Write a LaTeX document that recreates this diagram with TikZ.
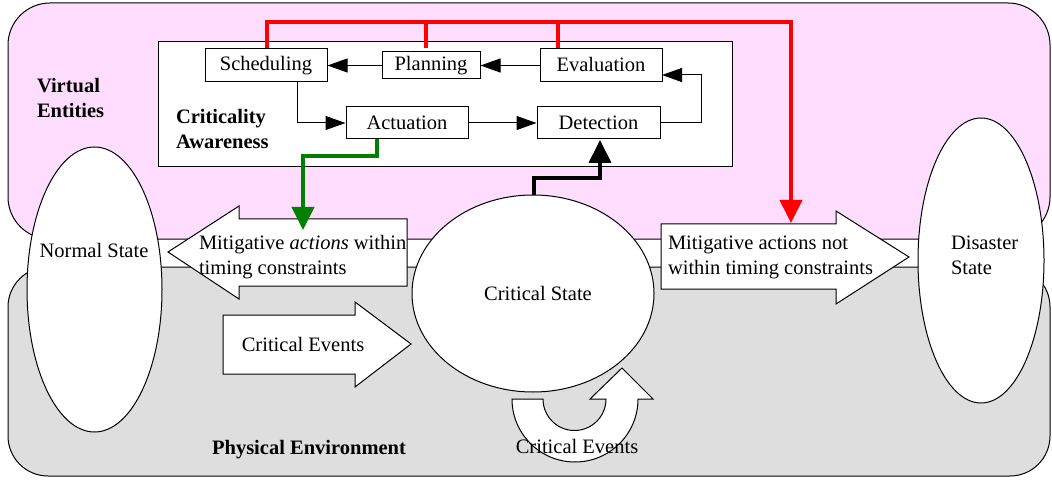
\documentclass[tikz,border=0pt]{standalone}
\usepackage{fontspec}
\setmainfont{Liberation Serif}
\usetikzlibrary{arrows.meta,calc,shapes.geometric}
\definecolor{vpink}{RGB}{255,221,255}
\definecolor{pgray}{RGB}{222,222,222}
\definecolor{dgreen}{RGB}{0,128,0}
\begin{document}
\begin{tikzpicture}[x=1pt,y=-1pt,
  font=\fontsize{20.5}{25}\selectfont,
  region/.style={draw=black,line width=1pt},
  procbox/.style={draw=black,fill=white,line width=1pt,inner sep=0pt},
  blockarrow/.style={draw=black,fill=white,line width=1pt,line join=miter},
  oval/.style={ellipse,draw=black,fill=white,line width=1pt,inner sep=0pt,outer sep=0pt},
  conn/.style={line width=1pt,-{Triangle[length=20pt,width=14pt]}},
  fat/.style={line width=4pt,line join=miter,-{Triangle[length=23pt,width=22pt]}},
  fatplain/.style={line width=4pt,line join=miter},
  txt/.style={inner sep=0pt,outer sep=0pt},
  bigtxt/.style={inner sep=0pt,outer sep=0pt,font=\fontsize{20.5}{25}\selectfont\bfseries}]
\useasboundingbox (0,0) rectangle (1052,481);
% regions
\draw[region,fill=vpink,rounded corners=42pt] (8,3) rectangle (1050,239);
\draw[region,fill=pgray,rounded corners=40pt] (8,267) rectangle (1050,476);
\node[bigtxt,anchor=north west,align=left] (virt) at (37,78) {Virtual\\Entities};
\node[bigtxt,anchor=base] (phys) at (309,454) {Physical Environment};
% criticality awareness box
\node[procbox,minimum width=574pt,minimum height=125pt] (cabox) at (445,104.5) {};
\node[bigtxt,anchor=north west,align=left] (calabel) at (176,109) {Criticality\\Awareness};
\node[procbox,minimum width=122pt,minimum height=33pt] (sched) at (266,65.5) {Scheduling};
\node[procbox,minimum width=98pt,minimum height=27pt] (plan) at (431,65.5) {Planning};
\node[procbox,minimum width=122pt,minimum height=33pt] (eval) at (601,65.5) {\raisebox{3pt}{Evaluation}};
\node[procbox,minimum width=122pt,minimum height=32pt] (act) at (407,123) {Actuation};
\node[procbox,minimum width=123pt,minimum height=32pt] (det) at (598.5,123) {Detection};
\draw[conn] (eval.west) -- (plan.east);
\draw[conn] (plan.west) -- (sched.east);
\coordinate (s1) at (297,82);
\draw[conn] (s1) |- (act.west);
\draw[conn] (act.east) -- (det.west);
\coordinate (e1) at (662,75);
\coordinate (d1) at (701,123);
\draw[conn] (det.east) -- (d1) |- (e1);
% states
\node[oval,minimum width=135pt,minimum height=285pt] (normal) at (94.5,289.5) {};
\node[txt,anchor=base] (normaltxt) at (94,257) {Normal State};
\node[oval,minimum width=126pt,minimum height=285pt] (disaster) at (981,260.5) {};
\node[txt,anchor=north west,align=left] (disastertxt) at (951,236.4) {Disaster\\State};
% block arrows
\draw[blockarrow] (168,252) -- (239,206) -- (239,219) -- (407,219) -- (407,286) -- (239,286) -- (239,299) -- cycle;
\node[txt,anchor=north west,align=left] (mitin) at (199,235.5) {Mitigative \textit{actions} within\\timing constraints};
\draw[blockarrow] (661,224) -- (836,224) -- (836,211) -- (909,257) -- (836,304) -- (836,289) -- (661,289) -- cycle;
\node[txt,anchor=north west,align=left] (mitout) at (668,236) {Mitigative actions not\\within timing constraints};
\draw[blockarrow] (223,315) -- (355,315) -- (355,302) -- (411,344) -- (355,387) -- (355,374) -- (223,374) -- cycle;
\node[txt,anchor=base] (cevents) at (303,351) {Critical Events};
% critical state
\node[oval,minimum width=242pt,minimum height=197pt] (crit) at (533,293.5) {};
\node[txt,anchor=base] (crittxt) at (538,300) {Critical State};
% U-turn arrow
\draw[blockarrow] (512,399) arc[start angle=180,end angle=0,radius=63] -- (653,399) -- (622,368) -- (590,399) -- (606,399) arc[start angle=0,end angle=180,radius=31.5] -- cycle;
\node[txt,anchor=base] (cevents2) at (577,453) {Critical Events};
% red lines
\coordinate (r1) at (267,22);
\coordinate (r2) at (426,22);
\coordinate (r3) at (558,22);
\coordinate (r4) at (791,22);
\coordinate (rtip) at (791,223);
\draw[fatplain,red] (sched.north -| r2) -- (r2);
\draw[fatplain,red] (eval.north -| r3) -- (r3);
\draw[fat,red] (sched.north -| r1) -- (r1) -- (r4) -- (rtip);
% green
\coordinate (g1) at (377,156);
\coordinate (g2) at (303,156);
\coordinate (gtip) at (303,230);
\draw[fat,dgreen] (act.south -| g1) -- (g1) -- (g2) -- (gtip);
% black
\coordinate (b0) at (534,195.5);
\coordinate (b1) at (534,178);
\coordinate (b2) at (600,178);
\coordinate (btip) at (600,140);
\draw[fat,black] (b0) -- (b1) -- (b2) -- (btip);
\end{tikzpicture}
\end{document}
